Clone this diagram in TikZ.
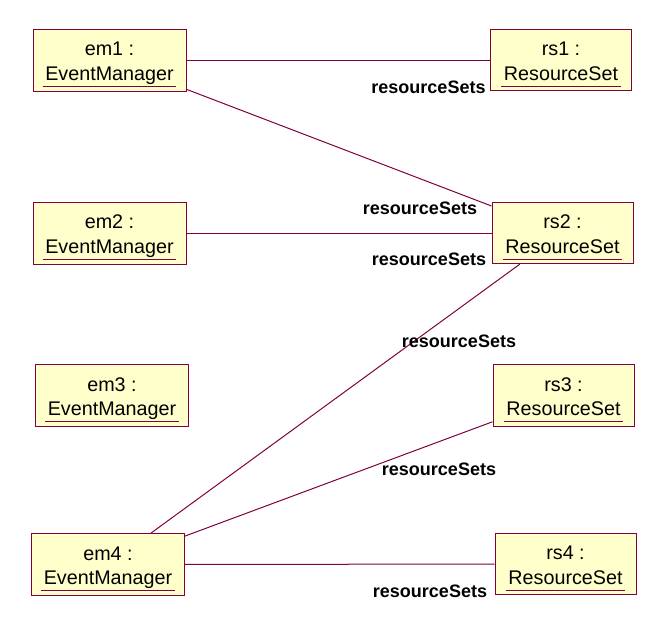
\documentclass[tikz,border=0pt]{standalone}
\usepackage{fontspec}
\setmainfont{Liberation Sans}
\usepackage{xcolor}
\usepackage{tikz}

\definecolor{umlred}{RGB}{128,0,64}
\definecolor{umlfill}{RGB}{255,255,204}

% object name: instance on top, underlined class below
\newcommand{\objclass}[1]{{\color{umlred}\underline{\kern2pt\color{black}#1\vphantom{g}\kern2pt}}}
\newcommand{\objlabel}[2]{\rule{0pt}{17pt}#1 :\\\objclass{#2}}

\begin{document}
\begin{tikzpicture}[
  x=0.75pt, y=-0.75pt,
  font=\fontsize{14.8}{18.5}\selectfont,
  obj/.style={draw=umlred, fill=umlfill, line width=0.75pt, align=center,
              inner sep=0pt, minimum width=114.75pt, minimum height=46.5pt},
  res/.style={obj, minimum width=105.75pt, minimum height=46pt},
  link/.style={draw=umlred, line width=0.75pt},
  role/.style={font=\bfseries\fontsize{13.5}{16}\selectfont, inner sep=0pt},
]
\useasboundingbox (0,0) rectangle (670,636);

\node[obj] (em1) at (109.5,60)  {\objlabel{em1}{EventManager}};
\node[obj] (em2) at (109.5,233) {\objlabel{em2}{EventManager}};
\node[obj] (em3) at (112,395.5) {\objlabel{em3}{EventManager}};
\node[obj] (em4) at (108,564.5) {\objlabel{em4}{EventManager}};

\node[res] (rs1) at (561,60)    {\objlabel{rs1}{ResourceSet}};
\node[res] (rs2) at (562.5,233) {\objlabel{rs2}{ResourceSet}};
\node[res] (rs3) at (563.5,395.5) {\objlabel{rs3}{ResourceSet}};
\node[res] (rs4) at (565.5,564) {\objlabel{rs4}{ResourceSet}};

\draw[link] (em1) -- (rs1);
\draw[link] (em1) -- (rs2);
\draw[link] (em2) -- (rs2);
\draw[link] (rs2) -- (em4);
\draw[link] (rs3) -- (em4);
\draw[link] (em4) -- (rs4);

\node[role] (r1) at (428.5,87)  {resourceSets};
\node[role] (r2) at (420,208)   {resourceSets};
\node[role] (r3) at (429,259)   {resourceSets};
\node[role] (r4) at (459,341)   {resourceSets};
\node[role] (r5) at (439,469)   {resourceSets};
\node[role] (r6) at (430,591)   {resourceSets};
\end{tikzpicture}
\end{document}
